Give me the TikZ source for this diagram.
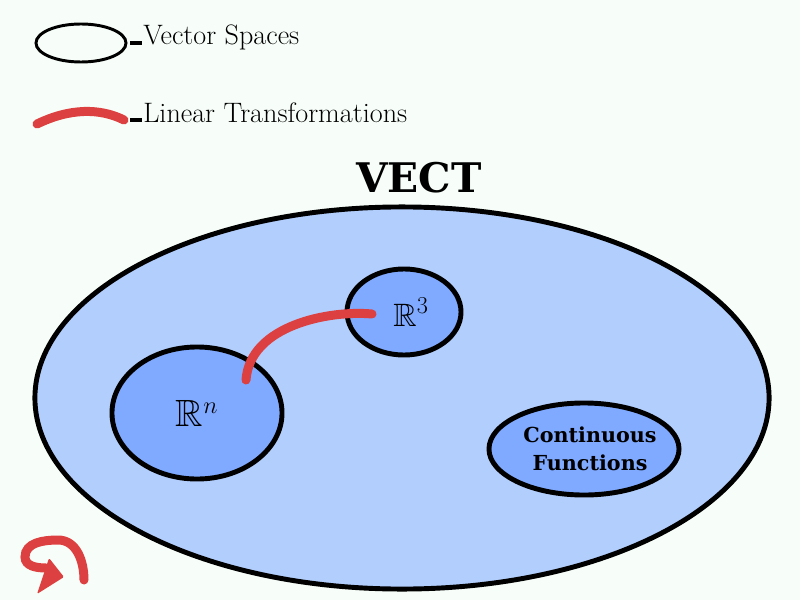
\documentclass[tikz,border=0pt]{standalone}
\usepackage{amsmath,amssymb}
\usepackage{fontspec}
\newfontfamily\slabfont{DejaVu Serif}
\usetikzlibrary{shapes.geometric,arrows.meta}
\definecolor{paper}{RGB}{247,254,249}
\definecolor{outerblue}{RGB}{178,206,252}
\definecolor{innerblue}{RGB}{128,170,255}
\definecolor{markred}{RGB}{221,64,64}
\tikzset{
  space/.style={ellipse, draw=black, line width=3.5pt, fill=innerblue, inner sep=0pt},
  map/.style={markred, line width=6.4pt, line cap=round},
  tick/.style={black, line width=2.2pt},
  keytext/.style={anchor=base west, inner sep=0pt, font=\fontsize{20}{24}\selectfont},
}

\begin{document}
\begin{tikzpicture}[x=0.025cm, y=0.025cm]
\useasboundingbox[fill=paper] (0,0) rectangle (800,600);
% legend
\node[ellipse, draw, line width=2.1pt, minimum width=2.25cm, minimum height=0.95cm] (keyspace) at (81,557) {};
\draw[tick] (130,557) -- (142,557);
\node[keytext] (keyspacetext) at (143,555) {Vector Spaces};
\draw[map] (37,476) .. controls (70,492) and (100,492) .. (124,480);
\draw[tick] (130,480) -- (142,480);
\node[keytext] (keymaptext) at (143,477) {Linear Transformations};
% the category
\node[anchor=base, inner sep=0pt, font=\slabfont\bfseries\fontsize{29}{32}\selectfont] (vect) at (419,407) {VECT};
\node[ellipse, draw=black, line width=3.5pt, fill=outerblue, minimum width=18.35cm, minimum height=9.55cm] (world) at (402,202) {};
\node[space, minimum width=4.25cm, minimum height=3.3cm, font=\fontsize{27}{30}\selectfont] (rn) at (197,187) {$\mathbb{R}^n$};
\node[space, minimum width=2.85cm, minimum height=2.15cm, font=\fontsize{23}{26}\selectfont] (r3) at (404,288) {\hspace{0.35cm}$\mathbb{R}^3$};
\node[space, minimum width=4.75cm, minimum height=2.3cm] (cont) at (584,151) {};
\node[align=center, inner sep=0pt, font=\slabfont\bfseries\fontsize{14.7}{20}\selectfont] (contlabel) at (590,151) {Continuous\\Functions};
% the map
\coordinate (rnend) at (246,220);
\coordinate (r3end) at (372,286);
\draw[map] (rnend) .. controls (250,275) and (330,290) .. (r3end);
% turn arrow
\draw[map] (84,20) to[out=90,in=0] (58,60) to[out=180,in=90] (25,43) to[out=-90,in=180] (46,32);
\fill[markred, rounded corners=1pt] (49,42) -- (64,23) -- (37,6) -- cycle;
\end{tikzpicture}
\end{document}
